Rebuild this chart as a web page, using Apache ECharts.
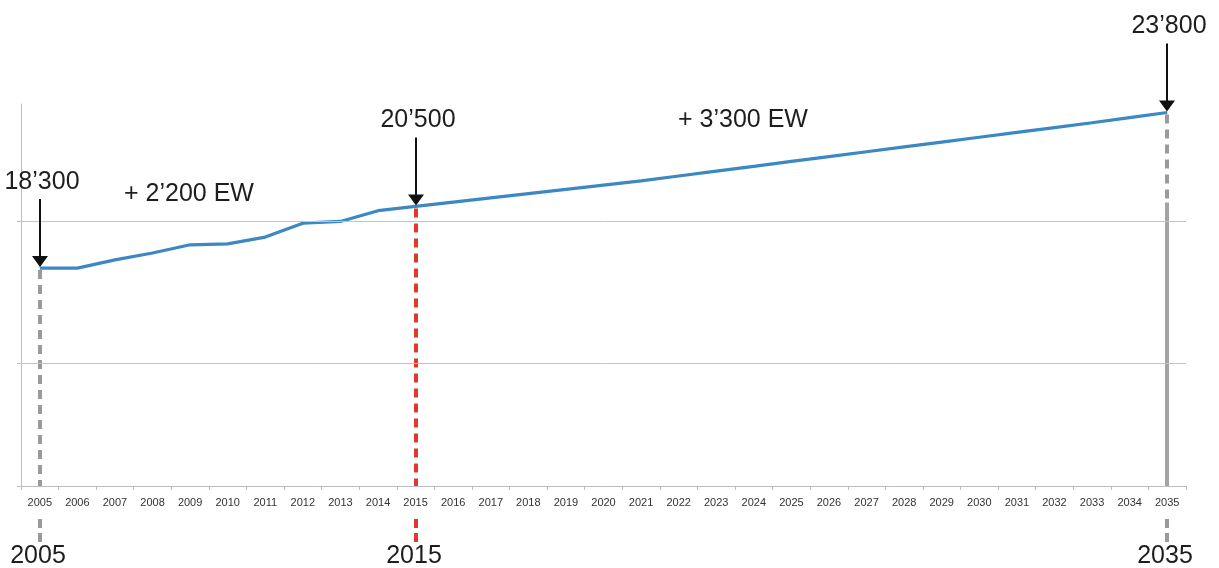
<!DOCTYPE html>
<html>
<head>
<meta charset="utf-8">
<script src="https://cdn.jsdelivr.net/npm/echarts@6/dist/echarts.min.js"></script>
<style>
html,body{margin:0;padding:0;background:#fff;}
#chart{width:1219px;height:568px;}
</style>
</head>
<body>
<div id="chart"></div>
<script>
// ---- data ----
const years = ['2005','2006','2007','2008','2009','2010','2011','2012','2013','2014','2015',
  '2016','2017','2018','2019','2020','2021','2022','2023','2024','2025',
  '2026','2027','2028','2029','2030','2031','2032','2033','2034','2035'];
const population = [18360,18360,18650,18890,19180,19210,19450,19940,20000,20380,20530,
  20680,20830,20980,21130,21280,21430,21600,21770,21940,22110,
  22280,22450,22620,22790,22960,23130,23300,23470,23650,23830];
const yMin = 10700;
const yMax = 24130;
const gridValues = [15000, 20000];
const markYears = ['2005','2015','2035'];
const markValueLabels = ['18’300','20’500','23’800'];
const markColors = ['#9a9a9a','#e0392c','#9a9a9a'];
const growthLabels = ['+ 2’200 EW','+ 3’300 EW'];

const FONT = '"Liberation Sans", Arial, Helvetica, sans-serif';
const chart = echarts.init(document.getElementById('chart'), null, {renderer:'canvas'});

const option = {
  animation: false,
  backgroundColor: '#fff',
  grid: {left: 21, right: 33, top: 104, bottom: 82, containLabel: false},
  xAxis: {
    type: 'category',
    data: years,
    boundaryGap: true,
    axisLine: {show: true, lineStyle: {color: '#bdbdbd', width: 1}},
    axisTick: {show: true, interval: 0, length: 4, lineStyle: {color: '#bdbdbd'}},
    axisLabel: {interval: 0, fontSize: 11, color: '#333', margin: 11, fontFamily: FONT},
    splitLine: {show: false}
  },
  yAxis: {
    type: 'value',
    min: yMin,
    max: yMax,
    axisLine: {show: true, lineStyle: {color: '#bdbdbd', width: 1}},
    axisTick: {show: true, length: 4, customValues: [yMin].concat(gridValues), lineStyle: {color: '#bdbdbd'}},
    axisLabel: {show: false},
    splitLine: {show: false}
  },
  series: [
    {
      type: 'line',
      data: [],
      z: 1,
      silent: true,
      markLine: {
        silent: true,
        symbol: 'none',
        label: {show: false},
        lineStyle: {color: '#c4c4c4', type: 'solid', width: 1},
        data: gridValues.map(v => ({yAxis: v}))
      }
    },
    {
      type: 'line',
      data: population,
      z: 3,
      symbol: 'none',
      smooth: false,
      lineStyle: {color: '#3b88c3', width: 3.2}
    }
  ]
};
chart.setOption(option);

// ---- annotations positioned through the chart's own scales ----
const g = [];
const axisBottom = chart.convertToPixel({gridIndex: 0}, [0, yMin])[1];
markYears.forEach((yr, k) => {
  const idx = years.indexOf(yr);
  const p = chart.convertToPixel({gridIndex: 0}, [idx, population[idx]]);
  const x = Math.round(p[0]);
  const y = p[1];
  const col = markColors[k];
  g.push({type: 'line', z: 2, shape: {x1: x, y1: y + 2, x2: x, y2: axisBottom},
    style: {stroke: col, lineWidth: 4, lineDash: [9, 6]}});
  if (k === 2) {
    g.push({type: 'line', z: 2, shape: {x1: x, y1: y + 90, x2: x, y2: axisBottom},
      style: {stroke: '#a3a3a3', lineWidth: 4}});
  }
  g.push({type: 'line', z: 2, shape: {x1: x, y1: axisBottom + 33, x2: x, y2: axisBottom + 57},
    style: {stroke: col, lineWidth: 4, lineDash: [9, 5]}});
  g.push({type: 'text', z: 5, style: {text: yr, x: x - 2, y: axisBottom + 70, align: 'center', verticalAlign: 'middle',
    font: '25px ' + FONT, fill: '#1e1e1e'}});
  const tip = y - 1;
  const arrowLen = 68;
  g.push({type: 'line', z: 6, shape: {x1: x, y1: tip - arrowLen, x2: x, y2: tip - 9},
    style: {stroke: '#111', lineWidth: 2}});
  g.push({type: 'polygon', z: 6, shape: {points: [[x - 8, tip - 11], [x + 8, tip - 11], [x, tip]]},
    style: {fill: '#111'}});
  g.push({type: 'text', z: 6, style: {text: markValueLabels[k], x: x + 2, y: tip - arrowLen - 17,
    align: 'center', verticalAlign: 'middle', font: '25px ' + FONT, fill: '#1e1e1e'}});
});
g.push({type: 'text', z: 6, style: {text: growthLabels[0], x: 189, y: 194, align: 'center', verticalAlign: 'middle',
  font: '25px ' + FONT, fill: '#1e1e1e'}});
g.push({type: 'text', z: 6, style: {text: growthLabels[1], x: 743, y: 120, align: 'center', verticalAlign: 'middle',
  font: '25px ' + FONT, fill: '#1e1e1e'}});
chart.setOption({graphic: g});
</script>
</body>
</html>
